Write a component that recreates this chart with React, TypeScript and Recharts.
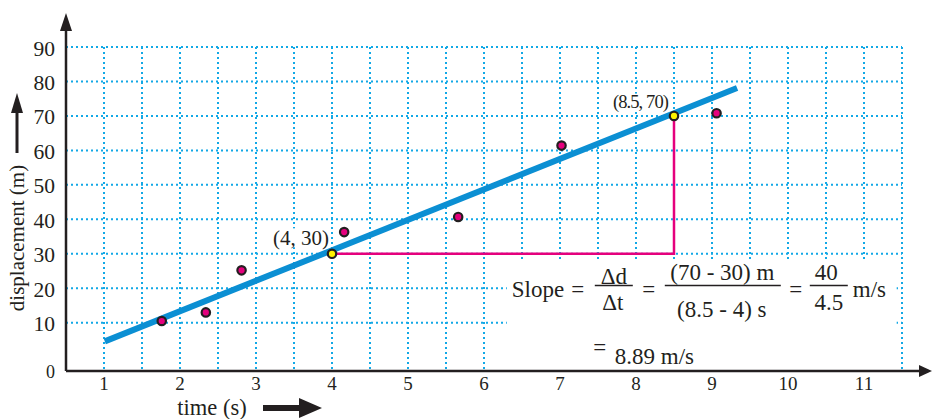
import React from 'react';
import {
  ComposedChart,
  XAxis,
  YAxis,
  CartesianGrid,
  Line,
  Scatter,
  ReferenceArea,
  ReferenceDot,
  LabelList,
} from 'recharts';

// ---------- data ----------
const xGridTicks = [1, 1.5, 2, 2.5, 3, 3.5, 4, 4.5, 5, 5.5, 6, 6.5, 7, 7.5, 8, 8.5, 9, 9.5, 10, 10.5, 11, 11.5];
const xTickLabels = [1, 2, 3, 4, 5, 6, 7, 8, 9, 10, 11];
const Y_ORIGIN = -4;
const yGridTicks = [Y_ORIGIN, 10, 20, 30, 40, 50, 60, 70, 80, 90];
const yTickLabels = ['0', '10', '20', '30', '40', '50', '60', '70', '80', '90'];

const measuredTimes = [1.76, 2.34, 2.81, 4.16, 5.66, 7.02, 9.06];
const measuredDisplacements = [10.5, 13.0, 25.2, 36.3, 40.7, 61.4, 70.8];

const chosenTimes = [4, 8.5];
const chosenDisplacements = [30, 70];
const chosenLabels = ['(4, 30)', '(8.5, 70)'];

const fitTimes = [1.01, 9.33];
const fitDisplacements = [4.6, 78.1];

const legTimes = [4, 8.5, 8.5];
const legDisplacements = [30, 30, 70];

const formulaBoxT = [6.3, 11.43];
const formulaBoxD = [-3.4, 28.5];

// ---------- built tables ----------
const measured = measuredTimes.map((t, i) => ({ t, d: measuredDisplacements[i] }));
const chosen = chosenTimes.map((t, i) => ({ t, d: chosenDisplacements[i], label: chosenLabels[i] }));
const fitLine = fitTimes.map((t, i) => ({ t, d: fitDisplacements[i] }));
const slopeLegs = legTimes.map((t, i) => ({ t, d: legDisplacements[i] }));

// ---------- styles ----------
const FONT = 'Liberation Serif, Times New Roman, serif';
const INK = '#231f20';
const GRID = '#12a8e6';
const BLUE = '#0b8fd3';
const MAGENTA = '#e5007d';
const YELLOW = '#fff200';

const MeasuredDot = (p: any) => (
  <circle cx={p.cx} cy={p.cy} r={4.2} fill={MAGENTA} stroke={INK} strokeWidth={2.2} />
);
const ChosenDot = (p: any) => (
  <circle cx={p.cx} cy={p.cy} r={4.2} fill={YELLOW} stroke={INK} strokeWidth={2.2} />
);

const PointLabel = (p: any) => {
  const { x, y, width, height, value, index } = p;
  const cx = x + (width || 0) / 2;
  const cy = y + (height || 0) / 2;
  const small = index === 1;
  const fs = small ? 18.5 : 21;
  const w = small ? 62 : 62;
  const ex = cx - (small ? 6 : 3);
  const ty = cy - (small ? 14 : 16);
  return (
    <g>
      <rect x={ex - w} y={ty - fs * 0.45} width={w} height={fs * 0.9} fill="#ffffff" />
      <text
        x={ex}
        y={ty}
        textAnchor="end"
        dominantBaseline="central"
        fontFamily={FONT}
        fontSize={fs}
        letterSpacing={small ? -0.9 : 0}
        fill={INK}
      >
        {value}
      </text>
    </g>
  );
};

const YTick = (p: any) => {
  const v = p.payload?.value;
  const isOrigin = v === Y_ORIGIN;
  return (
    <text
      x={p.x}
      y={p.y + (isOrigin ? 1 : 1.5)}
      textAnchor="end"
      dominantBaseline="central"
      fontFamily={FONT}
      fontSize={isOrigin ? 18 : 21.5}
      fill={INK}
    >
      {yTickLabels[yGridTicks.indexOf(v)]}
    </text>
  );
};

const YArrow = (p: any) => (
  <g>
    <line x1={p.cx} y1={p.cy} x2={p.cx} y2={p.cy - 20} stroke={INK} strokeWidth={2.5} />
    <polygon points={`${p.cx},${p.cy - 34} ${p.cx - 6},${p.cy - 16} ${p.cx + 6},${p.cy - 16}`} fill={INK} />
  </g>
);
const XArrow = (p: any) => (
  <g>
    <line x1={p.cx} y1={p.cy} x2={p.cx + 20} y2={p.cy} stroke={INK} strokeWidth={2.5} />
    <polygon points={`${p.cx + 30},${p.cy} ${p.cx + 17},${p.cy - 6} ${p.cx + 17},${p.cy + 6}`} fill={INK} />
  </g>
);

const XTitle = (p: any) => {
  const vb = p.viewBox || { x: 66, y: 371 };
  const x = vb.x;
  const y = vb.y;
  return (
    <g>
      <text x={x + 146} y={y + 36} textAnchor="middle" dominantBaseline="central" fontFamily={FONT} fontSize={22.5} fill={INK}>
        time (s)
      </text>
      <rect x={x + 197} y={y + 34} width={40} height={6} fill={INK} />
      <polygon points={`${x + 256},${y + 37} ${x + 233},${y + 27} ${x + 233},${y + 47}`} fill={INK} />
    </g>
  );
};

const YTitle = (p: any) => {
  const vb = p.viewBox || { x: 26, y: 47 };
  const x = vb.x;
  const y = vb.y;
  const cx = x - 9;
  const cy = y + 191;
  return (
    <g>
      <text
        x={cx}
        y={cy}
        transform={`rotate(-90 ${cx} ${cy})`}
        textAnchor="middle"
        dominantBaseline="central"
        fontFamily={FONT}
        fontSize={21}
        fill={INK}
      >
        displacement (m)
      </text>
      <line x1={cx} y1={y + 106} x2={cx} y2={y + 60} stroke={INK} strokeWidth={3} />
      <polygon points={`${cx},${y + 46} ${cx - 6},${y + 66} ${cx + 6},${y + 66}`} fill={INK} />
    </g>
  );
};

const Formula = (p: any) => {
  const vb = p.viewBox || { x: 507, y: 259 };
  const x0 = vb.x;
  const y0 = vb.y;
  const T = (props: any) => (
    <text dominantBaseline="central" fontFamily={FONT} fontSize={23} fill={INK} {...props} />
  );
  return (
    <g>
      <T x={x0 + 5} y={y0 + 31}>Slope</T>
      <T x={x0 + 71} y={y0 + 31} textAnchor="middle">=</T>
      <T x={x0 + 107} y={y0 + 18} textAnchor="middle">Δd</T>
      <line x1={x0 + 88} x2={x0 + 126} y1={y0 + 26.5} y2={y0 + 26.5} stroke={INK} strokeWidth={1.3} />
      <T x={x0 + 106} y={y0 + 44} textAnchor="middle">Δt</T>
      <T x={x0 + 142} y={y0 + 31} textAnchor="middle">=</T>
      <T x={x0 + 215.5} y={y0 + 14} textAnchor="middle">(70 - 30) m</T>
      <line x1={x0 + 158} x2={x0 + 274} y1={y0 + 26.5} y2={y0 + 26.5} stroke={INK} strokeWidth={1.3} />
      <T x={x0 + 215} y={y0 + 51} textAnchor="middle">(8.5 - 4) s</T>
      <T x={x0 + 289} y={y0 + 31} textAnchor="middle">=</T>
      <T x={x0 + 319.5} y={y0 + 14} textAnchor="middle">40</T>
      <line x1={x0 + 303} x2={x0 + 341} y1={y0 + 26.5} y2={y0 + 26.5} stroke={INK} strokeWidth={1.3} />
      <T x={x0 + 322} y={y0 + 44} textAnchor="middle">4.5</T>
      <T x={x0 + 346} y={y0 + 31}>m/s</T>
      <T x={x0 + 93} y={y0 + 89} textAnchor="middle">=</T>
      <T x={x0 + 108} y={y0 + 98}>8.89  m/s</T>
    </g>
  );
};

export default function App() {
  return (
    <div style={{ position: 'absolute', left: 0, top: 0, width: 932, height: 419, background: '#ffffff', fontFamily: FONT }}>
      <ComposedChart width={932} height={419} margin={{ top: 47, right: 30, bottom: 18, left: 26 }}>
        <CartesianGrid stroke={GRID} strokeWidth={2} strokeDasharray="2 3" />
        <XAxis
          dataKey="t"
          type="number"
          domain={[0.5, 11.5]}
          ticks={xGridTicks}
          interval={0}
          allowDataOverflow
          tickFormatter={(v: number) => (xTickLabels.includes(v) ? String(v) : '')}
          tickLine={false}
          tickMargin={0}
          axisLine={{ stroke: INK, strokeWidth: 2.5 }}
          tick={{ fontSize: 19, fill: INK, fontFamily: FONT }}
          height={30}
          label={XTitle}
        />
        <YAxis
          type="number"
          domain={[Y_ORIGIN, 90]}
          ticks={yGridTicks}
          interval={0}
          allowDataOverflow
          tickLine={false}
          tickMargin={5}
          axisLine={{ stroke: INK, strokeWidth: 2.5 }}
          tick={YTick}
          width={40}
          label={YTitle}
        />
        <ReferenceArea
          x1={formulaBoxT[0]}
          x2={formulaBoxT[1]}
          y1={formulaBoxD[0]}
          y2={formulaBoxD[1]}
          fill="#ffffff"
          fillOpacity={1}
          stroke="none"
          ifOverflow="visible"
          label={Formula}
        />
        <Line
          data={slopeLegs}
          dataKey="d"
          type="linear"
          stroke={MAGENTA}
          strokeWidth={2.5}
          dot={false}
          activeDot={false}
          isAnimationActive={false}
        />
        <Line
          data={fitLine}
          dataKey="d"
          type="linear"
          stroke={BLUE}
          strokeWidth={6}
          dot={false}
          activeDot={false}
          isAnimationActive={false}
        />
        <Scatter data={measured} dataKey="d" shape={MeasuredDot} isAnimationActive={false} />
        <Scatter data={chosen} dataKey="d" shape={ChosenDot} isAnimationActive={false}>
          <LabelList dataKey="label" content={PointLabel} />
        </Scatter>
        <ReferenceDot x={0.5} y={90} ifOverflow="visible" shape={YArrow} />
        <ReferenceDot x={11.5} y={Y_ORIGIN} ifOverflow="visible" shape={XArrow} />
      </ComposedChart>
    </div>
  );
}
